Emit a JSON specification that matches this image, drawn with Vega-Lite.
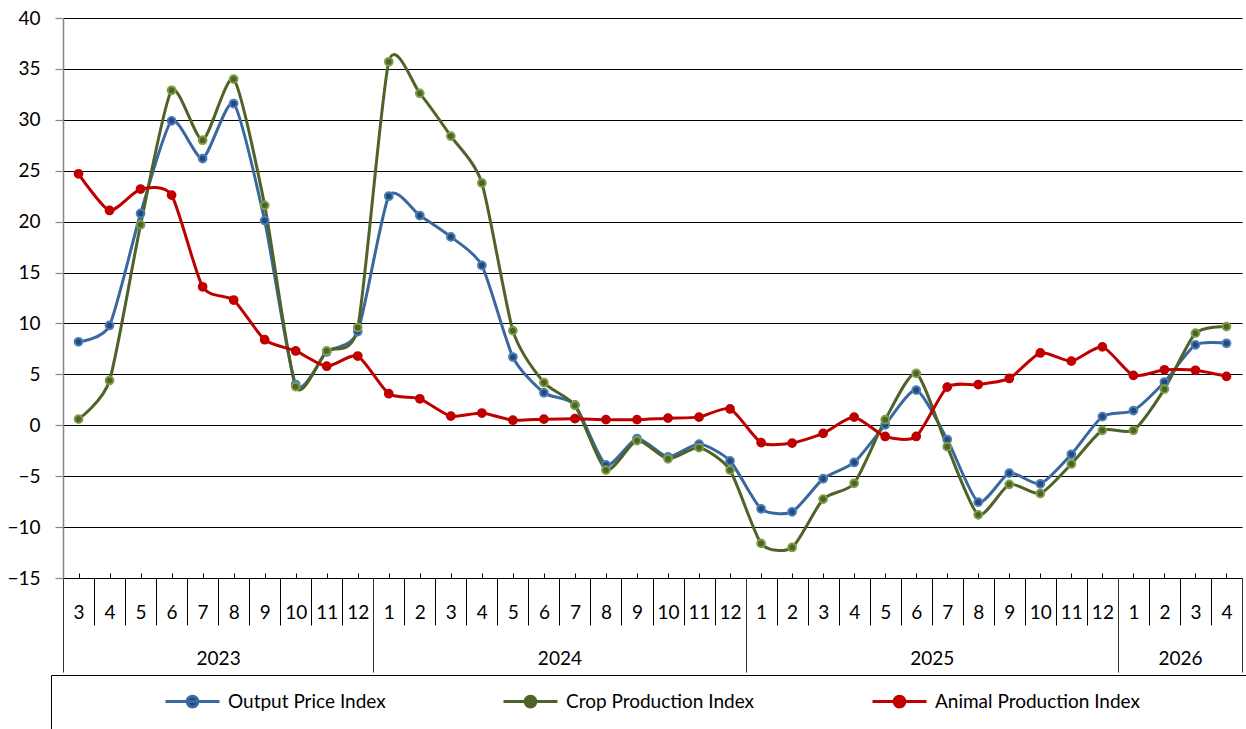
{
  "$schema": "https://vega.github.io/schema/vega-lite/v6.json",
  "width": 1179,
  "height": 560,
  "autosize": "none",
  "padding": {"left": 63, "top": 18, "right": 4, "bottom": 151},
  "background": "white",
  "config": {"view": {"stroke": null}, "font": "Lato", "axis": {"labelFont": "Lato", "labelColor": "#000"}},
  "data": {"values": [
    {"idx": 1, "Output Price Index": 8.2, "Crop Production Index": 0.6, "Animal Production Index": 24.7},
    {"idx": 2, "Output Price Index": 9.8, "Crop Production Index": 4.4, "Animal Production Index": 21.1},
    {"idx": 3, "Output Price Index": 20.8, "Crop Production Index": 19.7, "Animal Production Index": 23.2},
    {"idx": 4, "Output Price Index": 29.9, "Crop Production Index": 32.9, "Animal Production Index": 22.6},
    {"idx": 5, "Output Price Index": 26.2, "Crop Production Index": 28.0, "Animal Production Index": 13.6},
    {"idx": 6, "Output Price Index": 31.6, "Crop Production Index": 34.0, "Animal Production Index": 12.3},
    {"idx": 7, "Output Price Index": 20.1, "Crop Production Index": 21.6, "Animal Production Index": 8.4},
    {"idx": 8, "Output Price Index": 4.0, "Crop Production Index": 3.8, "Animal Production Index": 7.3},
    {"idx": 9, "Output Price Index": 7.2, "Crop Production Index": 7.3, "Animal Production Index": 5.8},
    {"idx": 10, "Output Price Index": 9.2, "Crop Production Index": 9.6, "Animal Production Index": 6.8},
    {"idx": 11, "Output Price Index": 22.5, "Crop Production Index": 35.7, "Animal Production Index": 3.1},
    {"idx": 12, "Output Price Index": 20.6, "Crop Production Index": 32.6, "Animal Production Index": 2.6},
    {"idx": 13, "Output Price Index": 18.5, "Crop Production Index": 28.4, "Animal Production Index": 0.9},
    {"idx": 14, "Output Price Index": 15.7, "Crop Production Index": 23.8, "Animal Production Index": 1.2},
    {"idx": 15, "Output Price Index": 6.7, "Crop Production Index": 9.3, "Animal Production Index": 0.5},
    {"idx": 16, "Output Price Index": 3.2, "Crop Production Index": 4.2, "Animal Production Index": 0.6},
    {"idx": 17, "Output Price Index": 2.0, "Crop Production Index": 1.95, "Animal Production Index": 0.65},
    {"idx": 18, "Output Price Index": -3.9, "Crop Production Index": -4.4, "Animal Production Index": 0.55},
    {"idx": 19, "Output Price Index": -1.3, "Crop Production Index": -1.5, "Animal Production Index": 0.55},
    {"idx": 20, "Output Price Index": -3.1, "Crop Production Index": -3.3, "Animal Production Index": 0.7},
    {"idx": 21, "Output Price Index": -1.85, "Crop Production Index": -2.2, "Animal Production Index": 0.8},
    {"idx": 22, "Output Price Index": -3.5, "Crop Production Index": -4.4, "Animal Production Index": 1.6},
    {"idx": 23, "Output Price Index": -8.2, "Crop Production Index": -11.6, "Animal Production Index": -1.7},
    {"idx": 24, "Output Price Index": -8.5, "Crop Production Index": -12.0, "Animal Production Index": -1.75},
    {"idx": 25, "Output Price Index": -5.25, "Crop Production Index": -7.25, "Animal Production Index": -0.8},
    {"idx": 26, "Output Price Index": -3.65, "Crop Production Index": -5.7, "Animal Production Index": 0.8},
    {"idx": 27, "Output Price Index": 0.05, "Crop Production Index": 0.55, "Animal Production Index": -1.1},
    {"idx": 28, "Output Price Index": 3.45, "Crop Production Index": 5.1, "Animal Production Index": -1.1},
    {"idx": 29, "Output Price Index": -1.4, "Crop Production Index": -2.1, "Animal Production Index": 3.75},
    {"idx": 30, "Output Price Index": -7.55, "Crop Production Index": -8.8, "Animal Production Index": 4.0},
    {"idx": 31, "Output Price Index": -4.7, "Crop Production Index": -5.8, "Animal Production Index": 4.6},
    {"idx": 32, "Output Price Index": -5.75, "Crop Production Index": -6.7, "Animal Production Index": 7.1},
    {"idx": 33, "Output Price Index": -2.85, "Crop Production Index": -3.8, "Animal Production Index": 6.3},
    {"idx": 34, "Output Price Index": 0.85, "Crop Production Index": -0.5, "Animal Production Index": 7.7},
    {"idx": 35, "Output Price Index": 1.45, "Crop Production Index": -0.5, "Animal Production Index": 4.9},
    {"idx": 36, "Output Price Index": 4.25, "Crop Production Index": 3.55, "Animal Production Index": 5.45},
    {"idx": 37, "Output Price Index": 7.9, "Crop Production Index": 9.05, "Animal Production Index": 5.4},
    {"idx": 38, "Output Price Index": 8.05, "Crop Production Index": 9.7, "Animal Production Index": 4.8}
  ]},
  "transform": [{"fold": ["Output Price Index", "Crop Production Index", "Animal Production Index"], "as": ["series", "value"]}],
  "layer": [
    {
      "mark": {"type": "line", "interpolate": "cardinal", "tension": 0.35, "strokeWidth": 3},
      "encoding": {
        "x": {"field": "idx", "type": "quantitative", "scale": {"domain": [0.5, 38.5], "nice": false, "zero": false},
          "axis": {"orient": "bottom", "title": null, "values": [1,2,3,4,5,6,7,8,9,10,11,12,13,14,15,16,17,18,19,20,21,22,23,24,25,26,27,28,29,30,31,32,33,34,35,36,37,38],
            "labelExpr": "(datum.value+1)%12+1", "ticks": false, "domain": true, "domainColor": "#000", "domainWidth": 1.2, "grid": false,
            "labelPadding": 34, "labelBaseline": "middle", "labelFontSize": 19, "labelFlush": false, "labelOverlap": false, "labelBound": false}},
        "y": {"field": "value", "type": "quantitative", "scale": {"domain": [-15, 40], "nice": false, "zero": false},
          "axis": {"orient": "left", "title": null, "values": [-15,-10,-5,0,5,10,15,20,25,30,35,40], "grid": true, "gridColor": "#000", "gridWidth": 1, "gridOpacity": 1,
            "domainColor": "#868686", "domainWidth": 1.5, "tickColor": "#868686", "tickSize": 8, "tickWidth": 1.2, "labelFontSize": 19, "labelPadding": 15, "labelOverlap": false, "labelFlush": false}},
        "color": {"field": "series", "type": "nominal",
          "scale": {"domain": ["Output Price Index", "Crop Production Index", "Animal Production Index"], "range": ["#3A67A0", "#4F6228", "#C00000"]},
          "legend": {"orient": "none", "legendX": 101, "legendY": 655, "direction": "horizontal", "title": null, "padding": 0,
            "symbolType": "M-1,0H1M-0.2,0A0.2,0.2,0,1,1,0.2,0A0.2,0.2,0,1,1,-0.2,0Z", "symbolSize": 2916, "symbolStrokeWidth": 3,
            "labelFont": "Lato", "labelFontSize": 19, "labelColor": "#000", "labelOffset": 7, "columnPadding": 111, "labelLimit": 400,
            "encode": {"symbols": {"update": {"stroke": {"field": "value", "scale": "color"}, "fill": {"field": "value", "scale": "color"}, "opacity": {"value": 1}}}}}}
      }
    },
    {
      "mark": {"type": "point", "filled": true, "size": 60, "strokeWidth": 2, "opacity": 1},
      "encoding": {
        "x": {"field": "idx", "type": "quantitative", "scale": {"domain": [0.5, 38.5], "nice": false, "zero": false},
          "axis": {"orient": "bottom", "title": null, "values": [1,2,3,4,5,6,7,8,9,10,11,12,13,14,15,16,17,18,19,20,21,22,23,24,25,26,27,28,29,30,31,32,33,34,35,36,37,38],
            "labels": false, "domain": false, "grid": false, "ticks": true, "tickSize": -5, "tickColor": "#000", "tickWidth": 1}},
        "y": {"field": "value", "type": "quantitative", "scale": {"domain": [-15, 40], "nice": false, "zero": false}, "axis": null},
        "fill": {"field": "series", "type": "nominal", "legend": null,
          "scale": {"domain": ["Output Price Index", "Crop Production Index", "Animal Production Index"], "range": ["#254A7A", "#4F6228", "#C00000"]}},
        "stroke": {"field": "series", "type": "nominal", "legend": null,
          "scale": {"domain": ["Output Price Index", "Crop Production Index", "Animal Production Index"], "range": ["#4A7EBB", "#7E9F45", "#C00000"]}}
      }
    },
    {
      "mark": {"type": "point", "opacity": 0},
      "encoding": {
        "x": {"field": "idx", "type": "quantitative", "scale": {"domain": [0.5, 38.5], "nice": false, "zero": false},
          "axis": {"orient": "bottom", "title": null, "values": [1.5,2.5,3.5,4.5,5.5,6.5,7.5,8.5,9.5,11.5,12.5,13.5,14.5,15.5,16.5,17.5,18.5,19.5,20.5,21.5,23.5,24.5,25.5,26.5,27.5,28.5,29.5,30.5,31.5,32.5,33.5,35.5,36.5,37.5],
            "labels": false, "domain": false, "grid": false, "ticks": true, "tickSize": 47, "tickColor": "#000", "tickWidth": 1}},
        "y": {"field": "value", "type": "quantitative", "scale": {"domain": [-15, 40], "nice": false, "zero": false}, "axis": null},
        "shape": {"datum": "frame",
          "legend": {"orient": "none", "legendX": -12, "legendY": 657, "title": " ", "titleOrient": "left", "titlePadding": 1300,
            "strokeColor": "#000", "padding": 0, "symbolOpacity": 0, "labelExpr": "''", "clipHeight": 80}}
      }
    },
    {
      "mark": {"type": "point", "opacity": 0},
      "encoding": {
        "x": {"field": "idx", "type": "quantitative", "scale": {"domain": [0.5, 38.5], "nice": false, "zero": false},
          "axis": {"orient": "bottom", "title": null, "values": [0.5, 10.5, 22.5, 34.5, 38.5],
            "labels": false, "domain": false, "grid": false, "ticks": true, "tickSize": 94, "tickColor": "#333", "tickWidth": 1}},
        "y": {"field": "value", "type": "quantitative", "scale": {"domain": [-15, 40], "nice": false, "zero": false}, "axis": null}
      }
    },
    {
      "mark": {"type": "point", "opacity": 0},
      "encoding": {
        "x": {"field": "idx", "type": "quantitative", "scale": {"domain": [0.5, 38.5], "nice": false, "zero": false},
          "axis": {"orient": "bottom", "title": null, "values": [5.5, 16.5, 28.5, 36.5],
            "labelExpr": "datum.value<10?'2023':datum.value<22?'2024':datum.value<34?'2025':'2026'",
            "labels": true, "domain": false, "grid": false, "ticks": false, "labelPadding": 80, "labelBaseline": "middle", "labelFontSize": 19, "labelFlush": false, "labelOverlap": false}},
        "y": {"field": "value", "type": "quantitative", "scale": {"domain": [-15, 40], "nice": false, "zero": false}, "axis": null}
      }
    }
  ],
  "resolve": {"axis": {"x": "independent", "y": "independent"}}
}
